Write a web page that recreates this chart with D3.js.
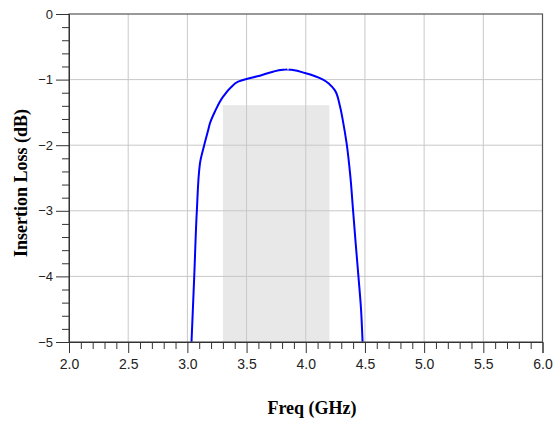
<!DOCTYPE html>
<html><head><meta charset="utf-8">
<script src="https://cdn.jsdelivr.net/npm/d3@7"></script>
<style>html,body{margin:0;padding:0;background:#fff;}</style>
</head><body>
<svg id="c" width="559" height="421"></svg>
<script>
const freq = [3.035, 3.058, 3.08, 3.106, 3.142, 3.176, 3.19, 3.232, 3.302, 3.373, 3.429, 3.5, 3.612, 3.724, 3.809, 3.85, 3.879, 3.992, 4.146, 4.2, 4.245, 4.287, 4.315, 4.345, 4.377, 4.4, 4.422, 4.445, 4.467, 4.48];
const loss = [-5.0, -4.0, -3.0, -2.28, -2.0, -1.77, -1.67, -1.49, -1.26, -1.11, -1.03, -0.99, -0.94, -0.88, -0.85, -0.845, -0.85, -0.90, -1.0, -1.07, -1.16, -1.39, -1.64, -1.97, -2.48, -3.0, -3.5, -4.0, -4.5, -5.0];
const bandX = [3.3, 4.2];
const bandTop = [-1.39];
const xTicks = [2.0, 2.5, 3.0, 3.5, 4.0, 4.5, 5.0, 5.5, 6.0];
const yTicks = [0, -1, -2, -3, -4, -5];
const xLabel = "Freq (GHz)";
const yLabel = "Insertion Loss (dB)";

const L = 69, R = 542.5, T = 14, B = 342;
const svg = d3.select("#c");
const x = d3.scaleLinear().domain([2, 6]).range([L, R]);
const y = d3.scaleLinear().domain([-5, 0]).range([B, T]);

// shaded band
svg.append("rect")
  .attr("x", x(bandX[0])).attr("y", y(bandTop[0]))
  .attr("width", x(bandX[1]) - x(bandX[0]))
  .attr("height", y(-5) - y(bandTop[0]))
  .attr("fill", "#e8e8e8");

// grid
svg.append("g").selectAll("line").data(xTicks.slice(1, -1)).join("line")
  .attr("x1", d => x(d)).attr("x2", d => x(d)).attr("y1", T).attr("y2", B)
  .attr("stroke", "#c8c8c8").attr("stroke-width", 1);
svg.append("g").selectAll("line").data(yTicks.slice(1, -1)).join("line")
  .attr("y1", d => y(d)).attr("y2", d => y(d)).attr("x1", L).attr("x2", R)
  .attr("stroke", "#c8c8c8").attr("stroke-width", 1);

// curve
svg.append("clipPath").attr("id", "cp").append("rect")
  .attr("x", L).attr("y", T).attr("width", R - L).attr("height", B - T);
const pts = freq.map((f, i) => [f, loss[i]]);
svg.append("path").datum(pts)
  .attr("clip-path", "url(#cp)")
  .attr("d", d3.line().x(d => x(d[0])).y(d => y(d[1])).curve(d3.curveMonotoneY))
  .attr("fill", "none").attr("stroke", "#0000ff").attr("stroke-width", 2);

// frame
svg.append("rect").attr("x", L).attr("y", T).attr("width", R - L).attr("height", B - T)
  .attr("fill", "none").attr("stroke", "#555").attr("stroke-width", 1.2);

// x axis
const xAx = d3.axisBottom(x).tickValues(xTicks).tickFormat(d3.format(".1f")).tickSize(11).tickPadding(6);
const gx = svg.append("g").attr("transform", `translate(0,${B})`).call(xAx);
gx.select(".domain").attr("stroke", "#333");
gx.selectAll(".tick line").attr("stroke", "#333");
gx.selectAll("text").attr("font-family", "Liberation Sans, Arial, sans-serif").attr("font-size", 14).attr("fill", "#222");
const xMinor = d3.range(20, 61).map(v => v / 10).filter(v => Math.abs(v * 2 - Math.round(v * 2)) > 1e-6);
svg.append("g").attr("transform", `translate(0,${B})`)
  .call(d3.axisBottom(x).tickValues(xMinor).tickSize(7).tickFormat(""))
  .call(g => g.select(".domain").remove())
  .selectAll("line").attr("stroke", "#333");

// y axis
const yAx = d3.axisLeft(y).tickValues(yTicks).tickFormat(d3.format("d")).tickSize(13).tickPadding(3);
const gy = svg.append("g").attr("transform", `translate(${L},0)`).call(yAx);
gy.select(".domain").attr("stroke", "#333");
gy.selectAll(".tick line").attr("stroke", "#333");
gy.selectAll("text").attr("font-family", "Liberation Sans, Arial, sans-serif").attr("font-size", 13).attr("fill", "#222");
const yMinor = d3.range(-25, 1).map(v => v / 5).filter(v => Math.abs(v - Math.round(v)) > 1e-6);
svg.append("g").attr("transform", `translate(${L},0)`)
  .call(d3.axisLeft(y).tickValues(yMinor).tickSize(7).tickFormat(""))
  .call(g => g.select(".domain").remove())
  .selectAll("line").attr("stroke", "#333");

// labels
svg.append("text").attr("x", 312).attr("y", 414).attr("text-anchor", "middle")
  .attr("font-family", "Liberation Serif, Times New Roman, serif").attr("font-weight", "bold").attr("font-size", 18)
  .attr("fill", "#000").text(xLabel);
svg.append("text").attr("transform", "translate(27,183) rotate(-90)").attr("text-anchor", "middle")
  .attr("font-family", "Liberation Serif, Times New Roman, serif").attr("font-weight", "bold").attr("font-size", 18)
  .attr("fill", "#000").text(yLabel);
</script>
</body></html>
